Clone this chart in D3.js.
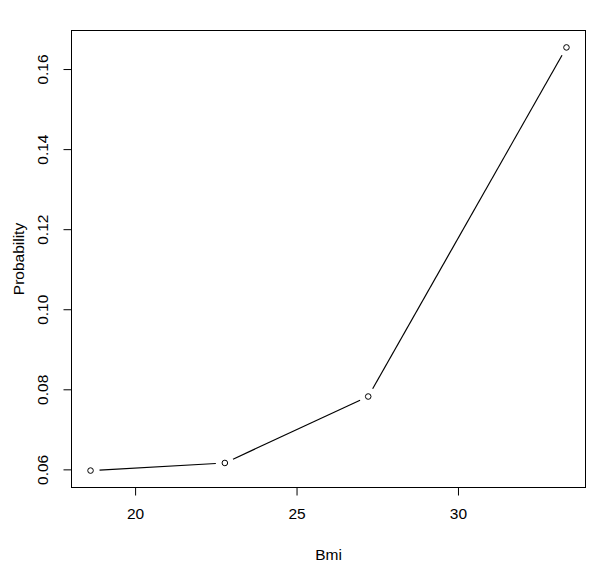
<!DOCTYPE html>
<html lang="en">
    <head>
        <meta charset="utf-8">
        <title>Probability vs Bmi</title>
        <script type="text/javascript" src="https://d3js.org/d3.v7.min.js"></script>
        <style type="text/css">
            body { margin: 0; background: #fff; }
            text { font-family: "Liberation Sans", Arial, sans-serif; fill: #000; }
        </style>
    </head>
    <body>
        <script type="text/javascript">

            const width = 610;
            const height = 572;
            const plotLeft = 71.5, plotRight = 585.5, plotTop = 30.5, plotBottom = 487.5;
            const fontSize = "15.5px";

            // data
            const bmi = [18.62, 22.78, 27.22, 33.36];
            const probability = [0.0597, 0.0616, 0.0782, 0.1654];
            const xTicks = [20, 25, 30];
            const yTicks = [0.06, 0.08, 0.10, 0.12, 0.14, 0.16];

            const data = bmi.map((b, i) => ({x: b, y: probability[i]}));

            // R style 4% padding on each side
            const pad = (ext) => {
                const r = ext[1] - ext[0];
                return [ext[0] - 0.04 * r, ext[1] + 0.04 * r];
            };

            const xScale = d3.scaleLinear()
                             .domain(pad(d3.extent(bmi)))
                             .range([plotLeft, plotRight]);
            const yScale = d3.scaleLinear()
                             .domain(pad(d3.extent(probability)))
                             .range([plotBottom, plotTop]);

            const svg = d3.select("body")
                          .append("svg")
                          .attr("width", width)
                          .attr("height", height);

            // box
            svg.append("rect")
               .attr("x", plotLeft)
               .attr("y", plotTop)
               .attr("width", plotRight - plotLeft)
               .attr("height", plotBottom - plotTop)
               .attr("fill", "none")
               .attr("stroke", "#000")
               .attr("stroke-width", 1);

            // bottom axis
            const bottomAxis = d3.axisBottom(xScale)
                                 .tickValues(xTicks)
                                 .tickSize(8)
                                 .tickPadding(12)
                                 .tickFormat(d3.format("d"));
            const gx = svg.append("g")
                          .attr("transform", "translate(0," + plotBottom + ")")
                          .call(bottomAxis);
            gx.select(".domain").remove();
            gx.selectAll("text")
              .attr("font-size", fontSize)
              .attr("font-family", "Liberation Sans, Arial, sans-serif");

            // left axis, labels rotated like R
            const leftAxis = d3.axisLeft(yScale)
                               .tickValues(yTicks)
                               .tickSize(8)
                               .tickFormat(d3.format(".2f"));
            const gy = svg.append("g")
                          .attr("transform", "translate(" + plotLeft + ",0)")
                          .call(leftAxis);
            gy.select(".domain").remove();
            gy.selectAll("text")
              .attr("font-size", fontSize)
              .attr("font-family", "Liberation Sans, Arial, sans-serif")
              .attr("x", null)
              .attr("dy", null)
              .attr("text-anchor", "middle")
              .attr("transform", "translate(-23.5,0) rotate(-90)");

            // lines with gaps round the points (type = "b")
            const gap = 9;
            const segs = d3.pairs(data).map(([a, b]) => {
                const x1 = xScale(a.x), y1 = yScale(a.y);
                const x2 = xScale(b.x), y2 = yScale(b.y);
                const len = Math.hypot(x2 - x1, y2 - y1);
                const ux = (x2 - x1) / len, uy = (y2 - y1) / len;
                return [x1 + ux * gap, y1 + uy * gap, x2 - ux * gap, y2 - uy * gap];
            });
            svg.selectAll("line.seg")
               .data(segs)
               .enter()
               .append("line")
               .attr("class", "seg")
               .attr("x1", d => d[0])
               .attr("y1", d => d[1])
               .attr("x2", d => d[2])
               .attr("y2", d => d[3])
               .attr("stroke", "#000")
               .attr("stroke-width", 1.2);

            svg.selectAll("circle")
               .data(data)
               .enter()
               .append("circle")
               .attr("cx", d => xScale(d.x))
               .attr("cy", d => yScale(d.y))
               .attr("r", 2.8)
               .attr("fill", "none")
               .attr("stroke", "#000")
               .attr("stroke-width", 1);

            // axis titles
            svg.append("text")
               .attr("x", (plotLeft + plotRight) / 2)
               .attr("y", 559.5)
               .attr("text-anchor", "middle")
               .attr("font-size", fontSize)
               .text("Bmi");

            svg.append("text")
               .attr("transform", "translate(24," + (plotTop + plotBottom) / 2 + ") rotate(-90)")
               .attr("text-anchor", "middle")
               .attr("font-size", fontSize)
               .text("Probability");

        </script>
    </body>
</html>
